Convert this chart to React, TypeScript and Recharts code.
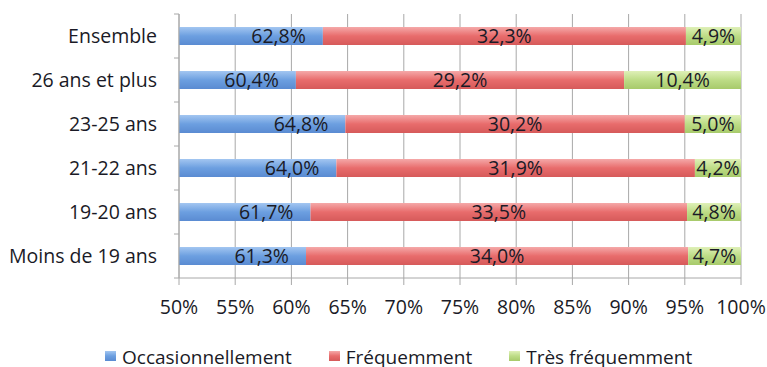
import { Bar, BarChart, CartesianGrid, LabelList, Legend, XAxis, YAxis } from "recharts";

const ROW_LABELS = ["Ensemble", "26 ans et plus", "23-25 ans", "21-22 ans", "19-20 ans", "Moins de 19 ans"];
const OCCASIONNEL = [62.8, 60.4, 64.8, 64.0, 61.7, 61.3];
const FREQUENT = [32.3, 29.2, 30.2, 31.9, 33.5, 34.0];
const TRES_FREQUENT = [4.9, 10.4, 5.0, 4.2, 4.8, 4.7];
const X_TICKS = [50, 55, 60, 65, 70, 75, 80, 85, 90, 95, 100];
const SERIES_NAMES = ["Occasionnellement", "Fréquemment", "Très fréquemment"];

const data = ROW_LABELS.map((name, i) => ({
  name,
  occ: OCCASIONNEL[i],
  freq: FREQUENT[i],
  tres: TRES_FREQUENT[i],
}));

const FONT = "'Open Sans', sans-serif";
const GRID = "#a8a8a8";
const TEXT = "#1a1a26";
const FS = 19.5;
const BAND = 44; // row height in px (264 / 6)

const gradients = [
  { id: "gBlue", top: "#a3c6f1", mid: "#6c9fe0", bot: "#5a8bd2" },
  { id: "gRed", top: "#f5a9a9", mid: "#e86c6c", bot: "#d65a5a" },
  { id: "gGreen", top: "#dff0b8", mid: "#bddc86", bot: "#a7ca6b" },
];

const fmt = (v: any) => `${Number(v).toFixed(1).replace(".", ",")}%`;

function RowTick(props: any) {
  const { x, y, payload, index } = props;
  const isLast = index === ROW_LABELS.length - 1;
  return (
    <g>
      <text x={x} y={y} dy="0.35em" textAnchor="end" fill={TEXT} fontSize={FS} fontFamily={FONT}>
        {payload.value}
      </text>
      <line x1={x + 17} x2={x + 22} y1={y - BAND / 2} y2={y - BAND / 2} stroke={GRID} />
      {isLast && <line x1={x + 17} x2={x + 22} y1={y + BAND / 2} y2={y + BAND / 2} stroke={GRID} />}
    </g>
  );
}

function LegendBox() {
  return (
    <div style={{ display: "flex", alignItems: "center", height: 20, paddingLeft: 105, fontFamily: FONT, fontSize: 19, color: TEXT }}>
      {SERIES_NAMES.map((n, i) => (
        <div key={n} style={{ display: "flex", alignItems: "center", marginRight: 37 }}>
          <div
            style={{
              width: 11,
              height: 10,
              marginRight: 6,
              marginTop: -2,
              background: `linear-gradient(${gradients[i].top}, ${gradients[i].mid} 50%, ${gradients[i].bot})`,
            }}
          />
          <span style={{ lineHeight: "20px" }}>{n}</span>
        </div>
      ))}
    </div>
  );
}

export default function App() {
  return (
    <div style={{ position: "absolute", left: 0, top: 0, background: "#fff" }}>
      <BarChart
        width={767}
        height={367}
        data={data}
        layout="vertical"
        barSize={18}
        margin={{ top: 14, right: 26, left: 0, bottom: 29 }}
        style={{ fontFamily: FONT }}
      >
        <defs>
          {gradients.map((g) => (
            <linearGradient key={g.id} id={g.id} x1="0" y1="0" x2="0" y2="1">
              <stop offset="0%" stopColor={g.top} />
              <stop offset="50%" stopColor={g.mid} />
              <stop offset="100%" stopColor={g.bot} />
            </linearGradient>
          ))}
        </defs>
        <CartesianGrid horizontal={false} stroke={GRID} />
        <XAxis
          type="number"
          domain={[50, 100]}
          allowDataOverflow
          ticks={X_TICKS}
          tickFormatter={(v) => `${v}%`}
          stroke={GRID}
          tickSize={7}
          tickMargin={15}
          height={40}
          tick={{ fill: TEXT, fontSize: FS }}
        />
        <YAxis
          type="category"
          dataKey="name"
          width={179}
          stroke={GRID}
          tickLine={false}
          tickSize={5}
          tickMargin={17}
          tick={<RowTick />}
        />
        <Bar dataKey="occ" name={SERIES_NAMES[0]} stackId="a" fill="url(#gBlue)" isAnimationActive={false}>
          <LabelList dataKey="occ" position="insideRight" offset={17} formatter={fmt} fill={TEXT} fontSize={FS} />
        </Bar>
        <Bar dataKey="freq" name={SERIES_NAMES[1]} stackId="a" fill="url(#gRed)" isAnimationActive={false}>
          <LabelList dataKey="freq" position="center" formatter={fmt} fill={TEXT} fontSize={FS} />
        </Bar>
        <Bar dataKey="tres" name={SERIES_NAMES[2]} stackId="a" fill="url(#gGreen)" isAnimationActive={false}>
          <LabelList dataKey="tres" position="center" formatter={fmt} fill={TEXT} fontSize={FS} />
        </Bar>
        <Legend content={<LegendBox />} wrapperStyle={{ top: 347, bottom: "auto", left: 0, width: 767 }} />
      </BarChart>
    </div>
  );
}
